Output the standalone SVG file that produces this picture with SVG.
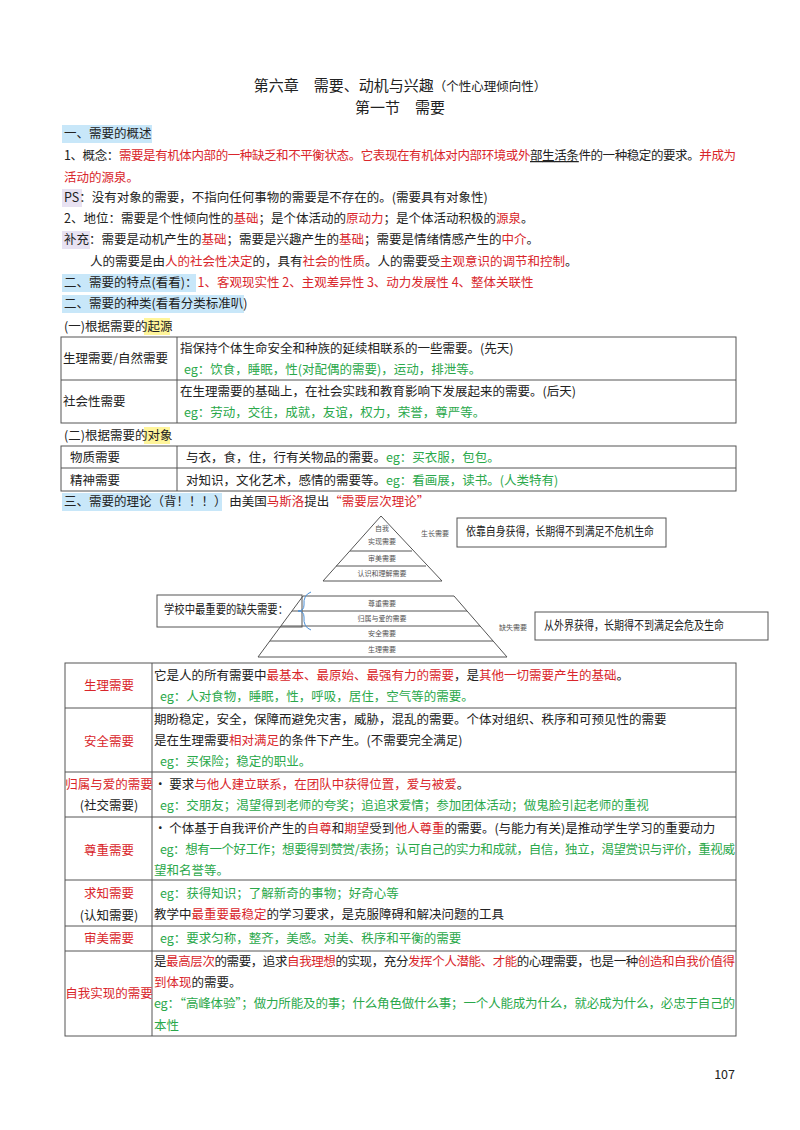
<svg xmlns="http://www.w3.org/2000/svg" width="800" height="1130" viewBox="0 0 800 1130">
<style>
text{font-family:"Noto Sans CJK SC","Liberation Sans",sans-serif;font-size:12.5px;fill:#222}
.r{fill:#d9262b}.g{fill:#2aa84a}
.t{font-size:15px}
.s{font-size:7px;fill:#555}
.b{fill:none;stroke:#555;stroke-width:1}
.hl{fill:#c8e7f9}
</style>
<rect width="800" height="1130" fill="#fff"/>
<text x="400" y="91" text-anchor="middle" class="t">第六章　需要、动机与兴趣<tspan font-size="12.5">（个性心理倾向性）</tspan></text>
<text x="400" y="113" text-anchor="middle" class="t">第一节　需要</text>
<rect x="62" y="125" width="90" height="18" class="hl"/>
<text x="64" y="138">一、需要的概述</text>
<text x="64" y="160" textLength="672">1、概念：<tspan class="r">需要是有机体内部的一种缺乏和不平衡状态。它表现在有机体对内部环境或外</tspan><tspan text-decoration="underline">部生活条</tspan>件的一种稳定的要求。<tspan class="r">并成为</tspan></text>
<text x="64" y="182" class="r">活动的源泉。</text>
<rect x="62" y="189" width="20" height="18" fill="#e8e2f2"/>
<text x="64" y="202">PS：没有对象的需要，不指向任何事物的需要是不存在的。(需要具有对象性)</text>
<text x="64" y="223">2、地位：需要是个性倾向性的<tspan class="r">基础</tspan>；是个体活动的<tspan class="r">原动力</tspan>；是个体活动积极的<tspan class="r">源泉</tspan>。</text>
<rect x="62" y="231" width="28" height="18" fill="#e8e2f2"/>
<text x="64" y="244">补充：需要是动机产生的<tspan class="r">基础</tspan>；需要是兴趣产生的<tspan class="r">基础</tspan>；需要是情绪情感产生的<tspan class="r">中介</tspan>。</text>
<text x="90" y="266">人的需要是由<tspan class="r">人的社会性决定</tspan>的，具有<tspan class="r">社会的性质</tspan>。人的需要受<tspan class="r">主观意识的调节和控制</tspan>。</text>
<rect x="62" y="274" width="134" height="18" class="hl"/>
<text x="64" y="287">二、需要的特点(看看)：<tspan class="r">1、客观现实性 2、主观差异性 3、动力发展性 4、整体关联性</tspan></text>
<rect x="62" y="295" width="182" height="18" class="hl"/>
<text x="64" y="308">二、需要的种类(看看分类标准叭)</text>
<rect x="144" y="318" width="26" height="17" fill="#fff59a"/>
<text x="64" y="331">(一)根据需要的起源</text>
<g id="table1">
<rect x="61" y="337" width="675" height="86" class="b"/>
<line x1="177" y1="337" x2="177" y2="423" class="b"/>
<line x1="61" y1="380" x2="736" y2="380" class="b"/>
<text x="63" y="363">生理需要/自然需要</text>
<text x="180" y="353">指保持个体生命安全和种族的延续相联系的一些需要。(先天)</text>
<text x="184" y="374" class="g">eg：饮食，睡眠，性(对配偶的需要)，运动，排泄等。</text>
<text x="63" y="406">社会性需要</text>
<text x="180" y="396">在生理需要的基础上，在社会实践和教育影响下发展起来的需要。(后天)</text>
<text x="184" y="417" class="g">eg：劳动，交往，成就，友谊，权力，荣誉，尊严等。</text>
</g>
<rect x="144" y="427" width="26" height="17" fill="#fff59a"/>
<text x="64" y="440">(二)根据需要的对象</text>
<g id="table2">
<rect x="61" y="446" width="675" height="45" class="b" stroke-width="1.3"/>
<line x1="177" y1="446" x2="177" y2="491" class="b"/>
<line x1="61" y1="468" x2="736" y2="468" class="b"/>
<text x="70" y="462">物质需要</text>
<text x="186" y="462">与衣，食，住，行有关物品的需要。<tspan class="g">eg：买衣服，包包。</tspan></text>
<text x="70" y="485">精神需要</text>
<text x="186" y="485">对知识，文化艺术，感情的需要等。<tspan class="g">eg：看画展，读书。(人类特有)</tspan></text>
</g>
<rect x="62" y="493" width="160" height="18" class="hl"/>
<text x="64" y="506">三、需要的理论（背！！！）  由美国<tspan class="r">马斯洛</tspan>提出<tspan class="r">“需要层次理论”</tspan></text>
<g id="pyramid-top">
<polygon points="381,516 323,581 442,581" class="b"/>
<line x1="350" y1="551" x2="412" y2="551" class="b"/>
<line x1="336" y1="566" x2="426" y2="566" class="b"/>
<text x="382" y="531" text-anchor="middle" class="s">自我</text>
<text x="382" y="544" text-anchor="middle" class="s">实现需要</text>
<text x="382" y="561" text-anchor="middle" class="s">审美需要</text>
<text x="382" y="576" text-anchor="middle" class="s">认识和理解需要</text>
<text x="421" y="536" class="s">生长需要</text>
</g>
<g id="box-grow"><rect x="457" y="518" width="209" height="29" class="b"/>
<text x="466" y="536" font-size="10" textLength="188" lengthAdjust="spacingAndGlyphs">依靠自身获得，长期得不到满足不危机生命</text></g>
<g id="pyramid-bottom">
<polygon points="303,596 454,596 507,657 258,657" class="b"/>
<line x1="292" y1="611" x2="467" y2="611" class="b"/>
<line x1="281" y1="626" x2="480" y2="626" class="b"/>
<line x1="270" y1="641" x2="493" y2="641" class="b"/>
<text x="382" y="606" text-anchor="middle" class="s">尊重需要</text>
<text x="382" y="621" text-anchor="middle" class="s">归属与爱的需要</text>
<text x="382" y="636" text-anchor="middle" class="s">安全需要</text>
<text x="382" y="652" text-anchor="middle" class="s">生理需要</text>
<text x="499" y="630" class="s">缺失需要</text>
</g>
<g id="box-school"><rect x="157" y="595" width="145" height="32" class="b"/>
<text x="164" y="614" font-size="10" textLength="124" lengthAdjust="spacingAndGlyphs">学校中最重要的缺失需要：</text>
<path d="M311,592 Q303,595 304,605 Q304,611 298,611 Q304,611 304,617 Q303,627 311,630" fill="none" stroke="#4a8fd6" stroke-width="1"/></g>
<g id="box-lack"><rect x="535" y="612" width="233" height="28" class="b"/>
<text x="544" y="630" font-size="10" textLength="180" lengthAdjust="spacingAndGlyphs">从外界获得，长期得不到满足会危及生命</text></g>
<g id="table3">
<rect x="65" y="663" width="671" height="373" class="b"/>
<line x1="152" y1="663" x2="152" y2="1036" class="b"/>
<line x1="65" y1="708" x2="736" y2="708" class="b"/>
<line x1="65" y1="772" x2="736" y2="772" class="b"/>
<line x1="65" y1="817" x2="736" y2="817" class="b"/>
<line x1="65" y1="880" x2="736" y2="880" class="b"/>
<line x1="65" y1="926" x2="736" y2="926" class="b"/>
<line x1="65" y1="951" x2="736" y2="951" class="b"/>
<text x="109" y="690" text-anchor="middle" class="r">生理需要</text>
<text x="154" y="680">它是人的所有需要中<tspan class="r">最基本、最原始、最强有力的需要</tspan>，是<tspan class="r">其他一切需要产生的基础</tspan>。</text>
<text x="160" y="701" class="g">eg：人对食物，睡眠，性，呼吸，居住，空气等的需要。</text>
<text x="109" y="746" text-anchor="middle" class="r">安全需要</text>
<text x="154" y="724">期盼稳定，安全，保障而避免灾害，威胁，混乱的需要。个体对组织、秩序和可预见性的需要</text>
<text x="154" y="745">是在生理需要<tspan class="r">相对满足</tspan>的条件下产生。(不需要完全满足)</text>
<text x="160" y="766" class="g">eg：买保险；稳定的职业。</text>
<text x="109" y="789" text-anchor="middle" class="r">归属与爱的需要</text>
<text x="109" y="810" text-anchor="middle">(社交需要)</text>
<text x="154" y="789">· 要求<tspan class="r">与他人建立联系，在团队中获得位置，爱与被爱</tspan>。</text>
<text x="160" y="810" class="g">eg：交朋友；渴望得到老师的夸奖；追追求爱情；参加团体活动；做鬼脸引起老师的重视</text>
<text x="109" y="855" text-anchor="middle" class="r">尊重需要</text>
<text x="154" y="833">· 个体基于自我评价产生的<tspan class="r">自尊</tspan>和<tspan class="r">期望</tspan>受到<tspan class="r">他人尊重</tspan>的需要。(与能力有关)是推动学生学习的重要动力</text>
<text x="160" y="854" class="g" textLength="575">eg：想有一个好工作；想要得到赞赏/表扬；认可自己的实力和成就，自信，独立，渴望赏识与评价，重视威</text>
<text x="154" y="875" class="g">望和名誉等。</text>
<text x="109" y="898" text-anchor="middle" class="r">求知需要</text>
<text x="109" y="920" text-anchor="middle">(认知需要)</text>
<text x="160" y="898" class="g">eg：获得知识；了解新奇的事物；好奇心等</text>
<text x="154" y="919">教学中<tspan class="r">最重要最稳定</tspan>的学习要求，是克服障碍和解决问题的工具</text>
<text x="109" y="943" text-anchor="middle" class="r">审美需要</text>
<text x="160" y="943" class="g">eg：要求匀称，整齐，美感。对美、秩序和平衡的需要</text>
<text x="109" y="998" text-anchor="middle" class="r">自我实现的需要</text>
<text x="154" y="966" textLength="581">是<tspan class="r">最高层次</tspan>的需要，追求<tspan class="r">自我理想</tspan>的实现，充分<tspan class="r">发挥个人潜能、才能</tspan>的心理需要，也是一种<tspan class="r">创造和自我价值得</tspan></text>
<text x="154" y="987"><tspan class="r">到体现</tspan>的需要。</text>
<text x="154" y="1008" class="g" textLength="581">eg：“高峰体验”；做力所能及的事；什么角色做什么事；一个人能成为什么，就必成为什么，必忠于自己的</text>
<text x="154" y="1030" class="g">本性</text>
</g>
<text x="735" y="1079" text-anchor="end" font-size="11">107</text>
</svg>
